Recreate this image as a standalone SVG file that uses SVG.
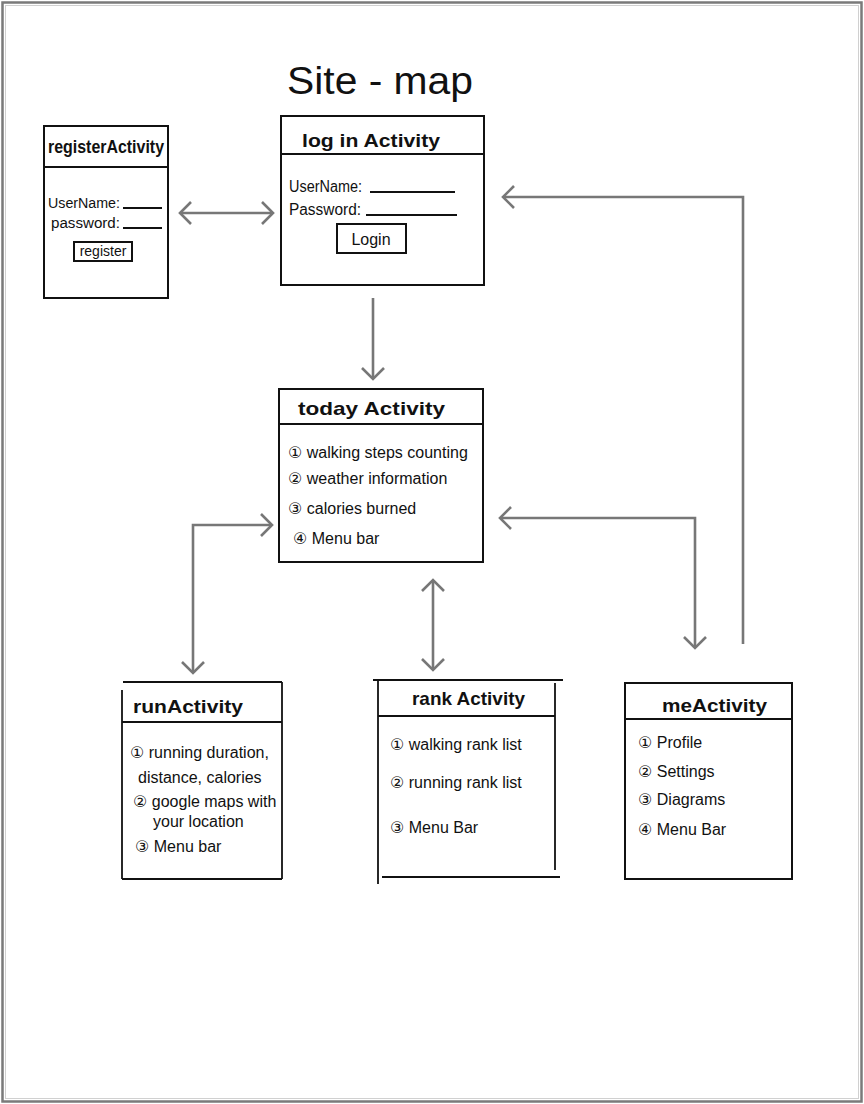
<svg xmlns="http://www.w3.org/2000/svg" width="864" height="1104" viewBox="0 0 864 1104">
<style>
.box{fill:none;stroke:#111;stroke-width:2}
.ln{stroke:#111;stroke-width:1.8}
.t{font-family:"Liberation Sans","DejaVu Sans",sans-serif;fill:#111}
.title{font-size:19px;font-weight:bold}
.item{font-size:16px}
.small{font-size:14px}
.conn{fill:none;stroke:#777;stroke-width:2.6;stroke-linejoin:miter}
</style>
<defs>
<marker id="chev" markerUnits="userSpaceOnUse" markerWidth="18" markerHeight="26" refX="13" refY="13" orient="auto-start-reverse" viewBox="0 0 18 26">
<path d="M2,2 L13,13 L2,24" fill="none" stroke="#777" stroke-width="2.6"/>
</marker>
</defs>
<rect x="0" y="0" width="864" height="1104" fill="#fff"/>
<rect x="2.5" y="2.5" width="859" height="1099" fill="none" stroke="#7a7a7a" stroke-width="2.5"/>
<rect x="5.5" y="5.5" width="853" height="1093" fill="none" stroke="#d0d0d0" stroke-width="1"/>

<text class="t" x="287" y="94" font-size="38" textLength="186" lengthAdjust="spacingAndGlyphs">Site - map</text>

<g id="registerActivity">
<rect class="box" x="44" y="126" width="124" height="172"/>
<line class="ln" x1="44" y1="167" x2="168" y2="167"/>
<text class="t title" x="48" y="153" font-size="16" textLength="116" lengthAdjust="spacingAndGlyphs">registerActivity</text>
<text class="t small" x="48" y="208" textLength="72" lengthAdjust="spacingAndGlyphs">UserName:</text>
<line class="ln" x1="123" y1="208" x2="162" y2="208"/>
<text class="t small" x="51" y="228" textLength="69" lengthAdjust="spacingAndGlyphs">password:</text>
<line class="ln" x1="123" y1="228" x2="162" y2="228"/>
<rect class="box" x="74" y="242" width="58" height="19" stroke-width="1.6"/>
<text class="t small" x="103" y="256" text-anchor="middle">register</text>
</g>

<g id="loginActivity">
<rect class="box" x="281" y="116" width="203" height="169"/>
<line class="ln" x1="281" y1="154" x2="484" y2="154"/>
<text class="t title" x="302" y="147" font-size="20" textLength="138" lengthAdjust="spacingAndGlyphs">log in Activity</text>
<text class="t item" x="289" y="192" textLength="73" lengthAdjust="spacingAndGlyphs">UserName:</text>
<line class="ln" x1="370" y1="192" x2="455" y2="192"/>
<text class="t item" x="289" y="215" textLength="72" lengthAdjust="spacingAndGlyphs">Password:</text>
<line class="ln" x1="366" y1="215" x2="457" y2="215"/>
<rect class="box" x="337" y="224" width="69" height="29" stroke-width="1.8"/>
<text class="t item" x="371" y="245" text-anchor="middle">Login</text>
</g>

<g id="todayActivity">
<rect class="box" x="279" y="389" width="204" height="173"/>
<line class="ln" x1="279" y1="424" x2="483" y2="424"/>
<text class="t title" x="298" y="415" font-size="20" textLength="147" lengthAdjust="spacingAndGlyphs">today Activity</text>
<text class="t item" x="288" y="458">① walking steps counting</text>
<text class="t item" x="288" y="484">② weather information</text>
<text class="t item" x="288" y="514">③ calories burned</text>
<text class="t item" x="293" y="544">④ Menu bar</text>
</g>

<g id="runActivity">
<line class="ln" x1="123" y1="682" x2="282" y2="682"/>
<line class="ln" x1="122" y1="690" x2="122" y2="879"/>
<line class="ln" x1="282" y1="682" x2="282" y2="879"/>
<line class="ln" x1="122" y1="722" x2="282" y2="722"/>
<line class="ln" x1="122" y1="879" x2="282" y2="879"/>
<text class="t title" x="133" y="713" font-size="19" textLength="110" lengthAdjust="spacingAndGlyphs">runActivity</text>
<text class="t item" x="130" y="758">① running duration,</text>
<text class="t item" x="138" y="783">distance, calories</text>
<text class="t item" x="133" y="807">② google maps with</text>
<text class="t item" x="153" y="827">your location</text>
<text class="t item" x="135" y="852">③ Menu bar</text>
</g>

<g id="rankActivity">
<line class="ln" x1="373" y1="680" x2="563" y2="680"/>
<line class="ln" x1="378" y1="680" x2="378" y2="884"/>
<line class="ln" x1="555" y1="683" x2="555" y2="870"/>
<line class="ln" x1="378" y1="716" x2="555" y2="716"/>
<line class="ln" x1="382" y1="877" x2="560" y2="877"/>
<text class="t title" x="412" y="705" font-size="19" textLength="113" lengthAdjust="spacingAndGlyphs">rank Activity</text>
<text class="t item" x="390" y="750">① walking rank list</text>
<text class="t item" x="390" y="788">② running rank list</text>
<text class="t item" x="390" y="833">③ Menu Bar</text>
</g>

<g id="meActivity">
<rect class="box" x="625" y="683" width="167" height="196"/>
<line class="ln" x1="625" y1="719" x2="792" y2="719"/>
<text class="t title" x="662" y="712" font-size="19" textLength="105" lengthAdjust="spacingAndGlyphs">meActivity</text>
<text class="t item" x="638" y="748">① Profile</text>
<text class="t item" x="638" y="777">② Settings</text>
<text class="t item" x="638" y="805">③ Diagrams</text>
<text class="t item" x="638" y="835">④ Menu Bar</text>
</g>

<g id="connectors">
<line class="conn" x1="180" y1="213" x2="273" y2="213" marker-start="url(#chev)" marker-end="url(#chev)"/>
<line class="conn" x1="373" y1="298" x2="373" y2="379" marker-end="url(#chev)"/>
<path class="conn" d="M272,525 L193,525 L193,673" marker-start="url(#chev)" marker-end="url(#chev)"/>
<line class="conn" x1="433" y1="580" x2="433" y2="670" marker-start="url(#chev)" marker-end="url(#chev)"/>
<path class="conn" d="M500,518 L695,518 L695,648" marker-start="url(#chev)" marker-end="url(#chev)"/>
<path class="conn" d="M743,644 L743,197 L503,197" marker-end="url(#chev)"/>
</g>
</svg>
